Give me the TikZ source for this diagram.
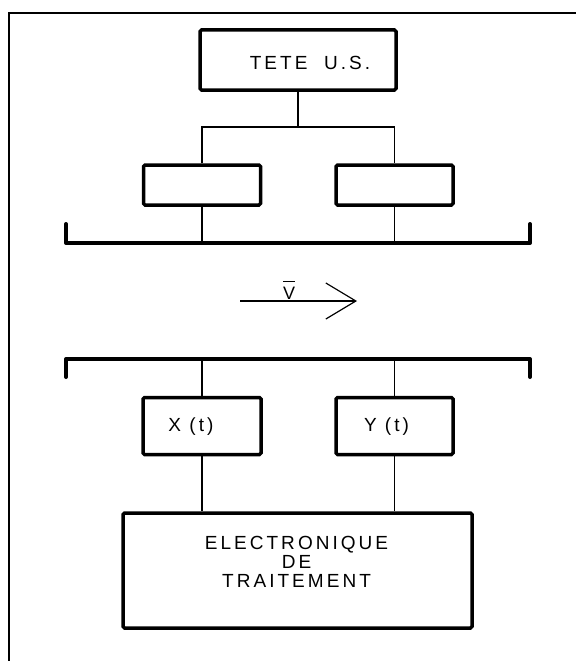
\documentclass[tikz,border=0pt]{standalone}
\usepackage{fontspec}
\newfontfamily\plotfont[LetterSpace=16]{Liberation Sans}
\usetikzlibrary{arrows.meta}

\begin{document}
\begin{tikzpicture}[x=1pt,y=-1pt,
	bloc/.style={draw,line width=3.5pt,rounded corners=1.5pt,inner sep=0pt},
	fil/.style={line width=1.2pt},
	barre/.style={line width=4pt,line cap=round,line join=round},
	texte/.style={font=\plotfont\fontsize{19}{19}\selectfont,align=center,inner sep=0pt}]
	
	\useasboundingbox (0,0) rectangle (576,661);
	
	% Cadre
	\draw[line width=2pt] (9,661) -- (9,13) -- (576,13);
	
	% Tete U.S.
	\node[bloc,minimum width=196,minimum height=60] (tete) at (298,60) {};
	\node[texte] (tetetexte) at ([shift={(12,3)}]tete.center) {TETE~~U.S.};
	
	% Transducteurs
	\node[bloc,minimum width=117,minimum height=40] (sondeA) at (202,185) {};
	\node[bloc,minimum width=117,minimum height=40] (sondeB) at (394.5,185) {};
	
	\coordinate (split) at (298,127);
	\draw[fil] (tete.south) -- (split);
	\draw[fil] (sondeA.north) |- (split) -| (sondeB.north);
	
	% Paroi haute
	\coordinate (hautG) at (66,243);
	\coordinate (hautD) at (530,243);
	\draw[barre] (hautG) ++(0,-19) -- (hautG) -- (hautD) -- ++(0,-19);
	\draw[fil] (sondeA.south) -- (sondeA.south |- hautG);
	\draw[fil] (sondeB.south) -- (sondeB.south |- hautG);
	
	% Vitesse
	\coordinate (flecheA) at (240,301);
	\coordinate (flecheB) at (357,301);
	\draw[fil,-{Straight Barb[length=30pt,width=36pt]}] (flecheA) -- (flecheB);
	\node[texte,font=\plotfont\fontsize{18}{18}\selectfont] (vitesse) at (289,290) {$\overline{\raisebox{0pt}[1.3\height]{V}}$};
	
	% Paroi basse
	\coordinate (basG) at (66,359);
	\coordinate (basD) at (530,359);
	\draw[barre] (basG) ++(0,18) -- (basG) -- (basD) -- ++(0,18);
	
	% Signaux
	\node[bloc,minimum width=118,minimum height=57] (signalX) at (202,426) {};
	\node[bloc,minimum width=117,minimum height=57] (signalY) at (394.5,426) {};
	\node[texte] (xtexte) at ([shift={(-11,1)}]signalX.center) {X (t)};
	\node[texte] (ytexte) at ([shift={(-8,1)}]signalY.center) {Y (t)};
	
	\draw[fil] (signalX.north |- basG) -- (signalX.north);
	\draw[fil] (signalY.north |- basG) -- (signalY.north);
	
	% Electronique
	\node[bloc,minimum width=349,minimum height=115] (traitement) at (297.5,570.5) {};
	\node[texte] (traitementtexte) at ([shift={(-1,-9)}]traitement.center) {ELECTRONIQUE\\DE\\TRAITEMENT};
	
	\draw[fil] (signalX.south) -- (signalX.south |- traitement.north);
	\draw[fil] (signalY.south) -- (signalY.south |- traitement.north);
	
\end{tikzpicture}
\end{document}
